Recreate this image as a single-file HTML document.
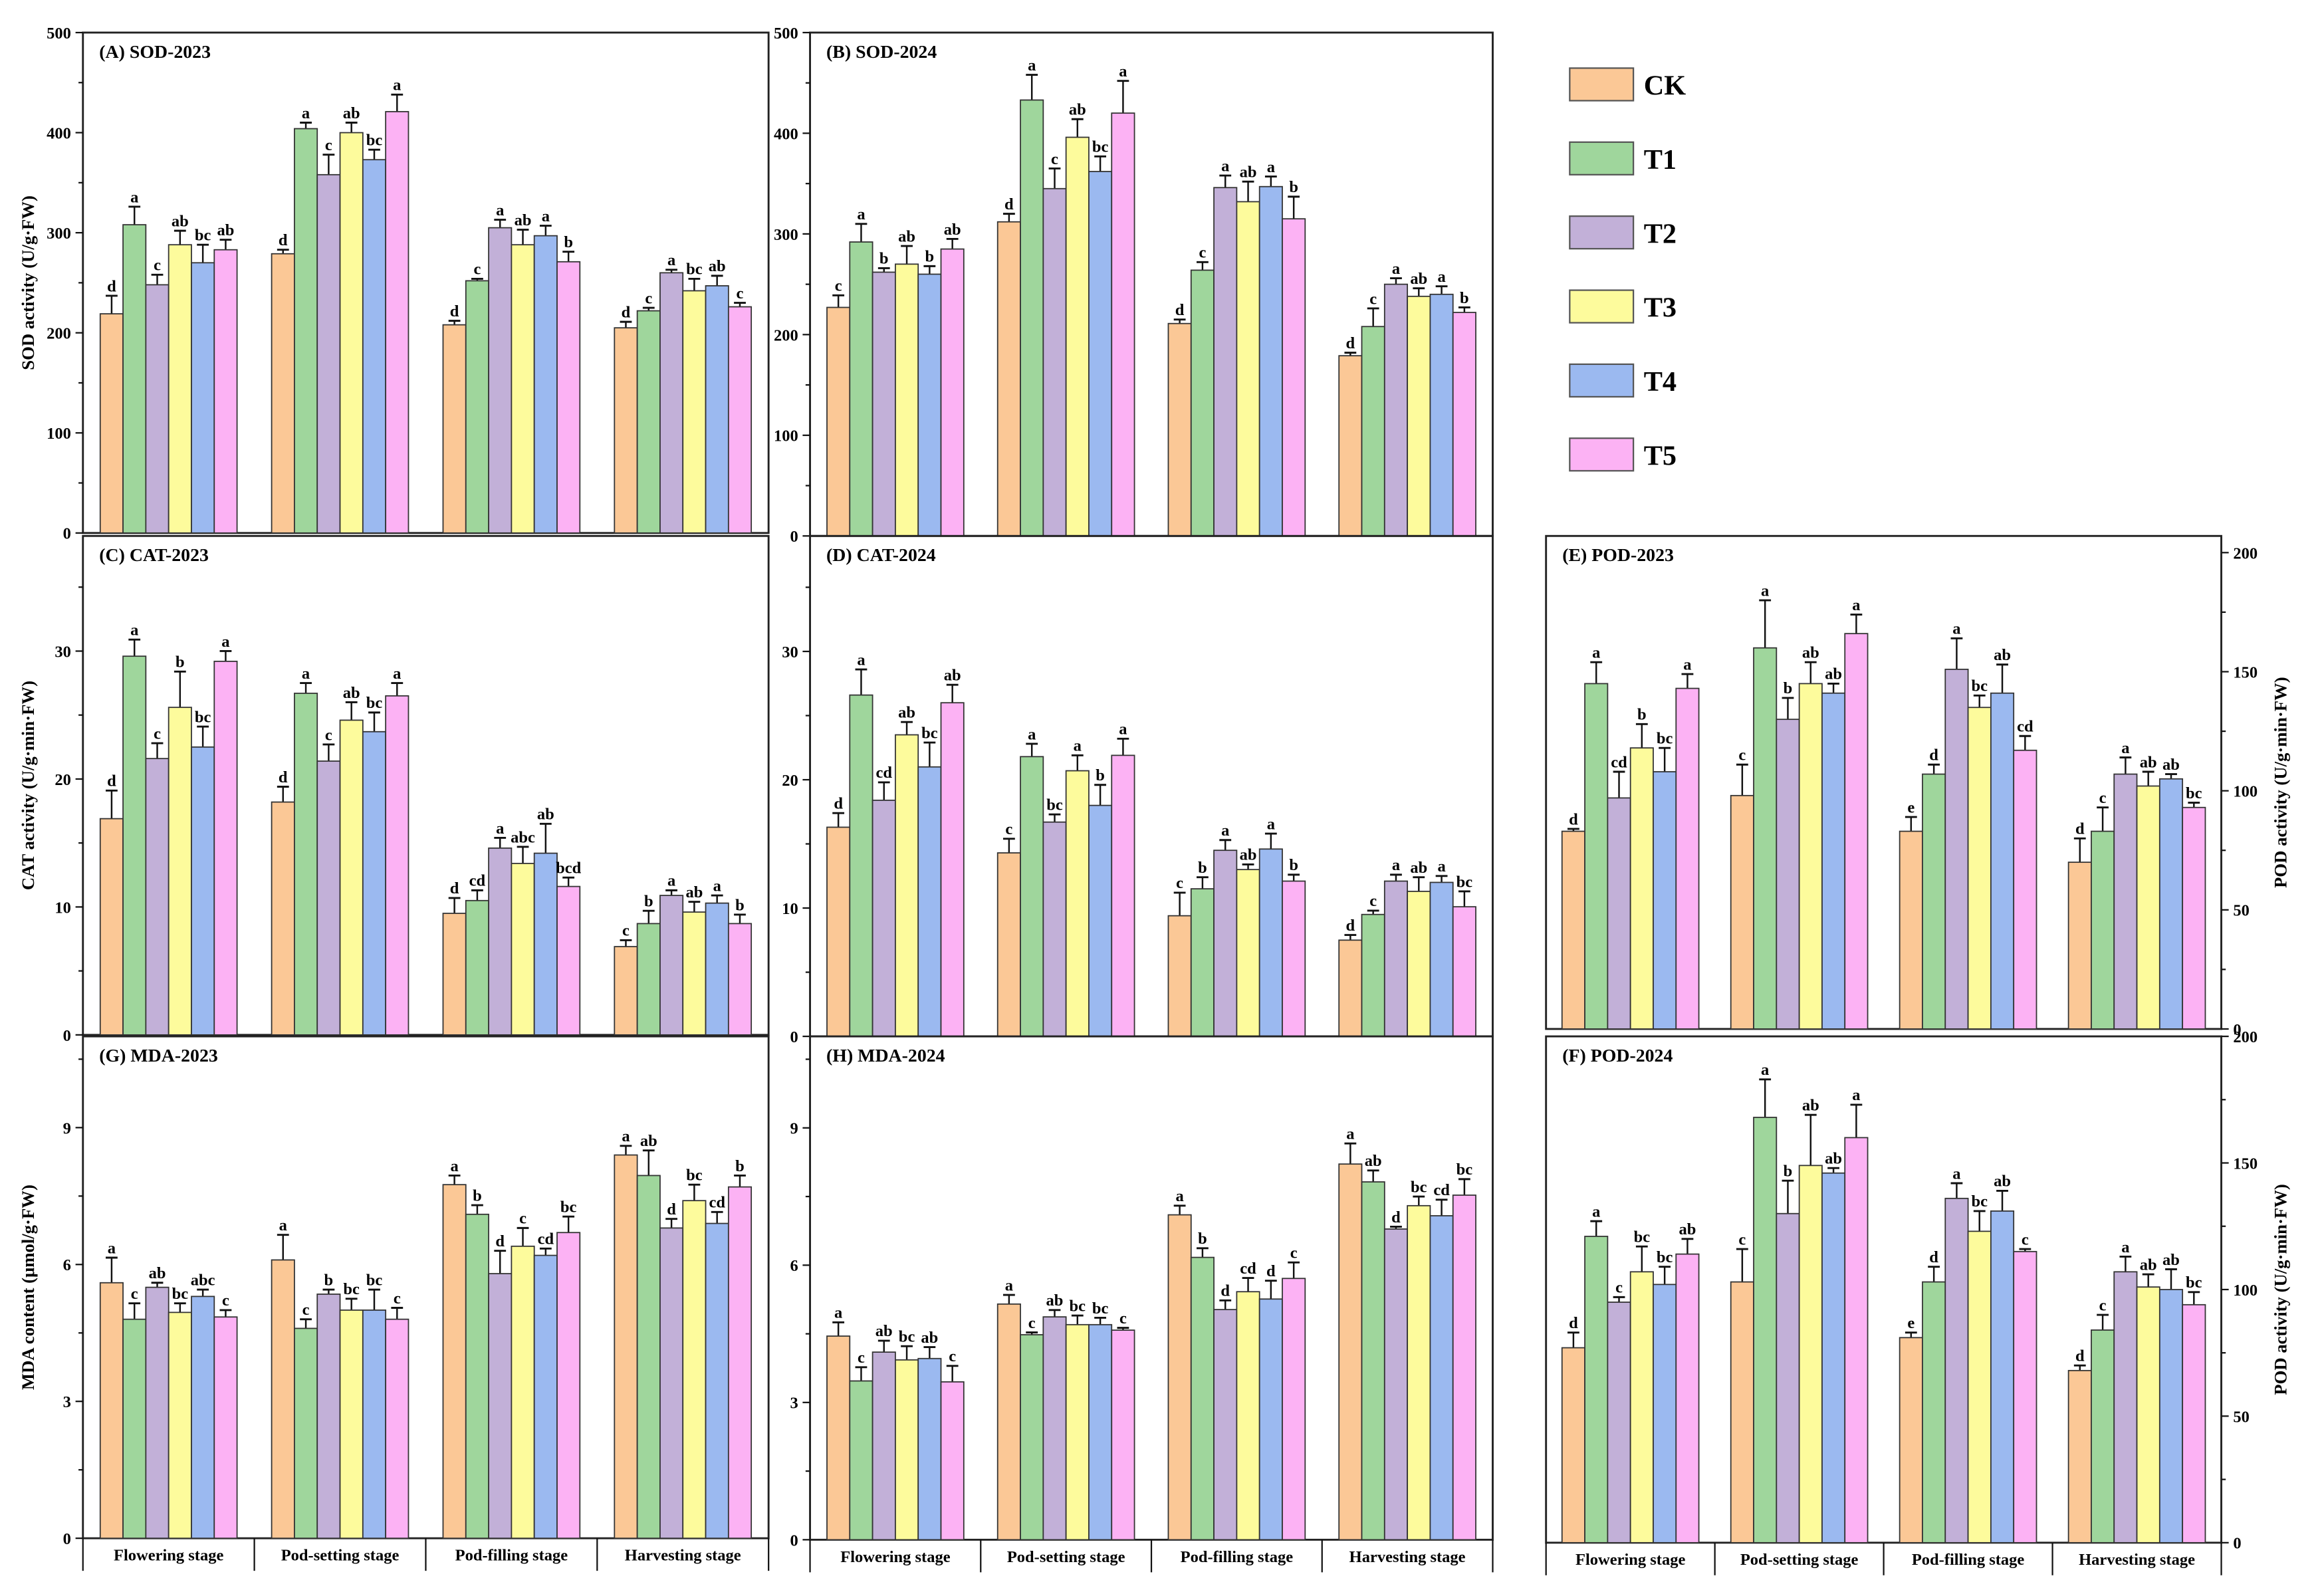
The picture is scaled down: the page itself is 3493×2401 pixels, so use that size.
<!DOCTYPE html>
<html><head><meta charset="utf-8"><style>
html,body{margin:0;padding:0;background:#fff;}
svg{display:block;}
text{font-family:"Liberation Serif",serif;fill:#000;}
</style></head><body>
<svg id="fig" xmlns="http://www.w3.org/2000/svg" width="3493" height="2401" viewBox="0 0 1568 1078" preserveAspectRatio="none">
<rect x="0" y="0" width="1568" height="1078" fill="#fff"/>
<g id="legend"></g>
<g id="panels"></g>
</svg>
<script>
const categories = ["Flowering stage","Pod-setting stage","Pod-filling stage","Harvesting stage"];
const seriesNames = ["CK","T1","T2","T3","T4","T5"];
const seriesColors = ["#fbc896","#9fd69c","#c2b0d8","#fdfb9c","#9bb9f0","#fcb2f4"];

const sod2023 = [[219,308,248,288,270,283],[279,404,358,400,373,421],[208,252,305,288,297,271],[205,222,260,242,247,226]];
const sod2023Err = [[18,18,10,14,18,10],[4,6,20,10,10,17],[4,2,8,15,10,10],[6,3,3,12,10,4]];
const sod2023Let = [["d","a","c","ab","bc","ab"],["d","a","c","ab","bc","a"],["d","c","a","ab","a","b"],["d","c","a","bc","ab","c"]];

const sod2024 = [[227,292,262,270,260,285],[312,433,345,396,362,420],[211,264,346,332,347,315],[179,208,250,238,240,222]];
const sod2024Err = [[12,18,4,18,8,10],[8,25,20,18,15,32],[4,8,12,20,10,22],[3,18,6,8,8,5]];
const sod2024Let = [["c","a","b","ab","b","ab"],["d","a","c","ab","bc","a"],["d","c","a","ab","a","b"],["d","c","a","ab","a","b"]];

const cat2023 = [[16.9,29.6,21.6,25.6,22.5,29.2],[18.2,26.7,21.4,24.6,23.7,26.5],[9.5,10.5,14.6,13.4,14.2,11.6],[6.9,8.7,10.9,9.6,10.3,8.7]];
const cat2023Err = [[2.2,1.3,1.2,2.8,1.6,0.8],[1.2,0.8,1.3,1.4,1.5,1.0],[1.2,0.8,0.8,1.3,2.3,0.7],[0.5,1.0,0.4,0.8,0.6,0.7]];
const cat2023Let = [["d","a","c","b","bc","a"],["d","a","c","ab","bc","a"],["d","cd","a","abc","ab","bcd"],["c","b","a","ab","a","b"]];

const cat2024 = [[16.3,26.6,18.4,23.5,21.0,26.0],[14.3,21.8,16.7,20.7,18.0,21.9],[9.4,11.5,14.5,13.0,14.6,12.1],[7.5,9.5,12.1,11.3,12.0,10.1]];
const cat2024Err = [[1.1,2.0,1.4,1.0,1.9,1.4],[1.1,1.0,0.6,1.2,1.6,1.3],[1.8,0.9,0.8,0.4,1.2,0.5],[0.4,0.3,0.5,1.1,0.5,1.2]];
const cat2024Let = [["d","a","cd","ab","bc","ab"],["c","a","bc","a","b","a"],["c","b","a","ab","a","b"],["d","c","a","ab","a","bc"]];

const pod2023 = [[83,145,97,118,108,143],[98,160,130,145,141,166],[83,107,151,135,141,117],[70,83,107,102,105,93]];
const pod2023Err = [[1,9,11,10,10,6],[13,20,9,9,4,8],[6,4,13,5,12,6],[10,10,7,6,2,2]];
const pod2023Let = [["d","a","cd","b","bc","a"],["c","a","b","ab","ab","a"],["e","d","a","bc","ab","cd"],["d","c","a","ab","ab","bc"]];

const pod2024 = [[77,121,95,107,102,114],[103,168,130,149,146,160],[81,103,136,123,131,115],[68,84,107,101,100,94]];
const pod2024Err = [[6,6,2,10,7,6],[13,15,13,20,2,13],[2,6,6,8,8,1],[2,6,6,5,8,5]];
const pod2024Let = [["d","a","c","bc","bc","ab"],["c","a","b","ab","ab","a"],["e","d","a","bc","ab","c"],["d","c","a","ab","ab","bc"]];

const mda2023 = [[5.6,4.8,5.5,4.95,5.3,4.85],[6.1,4.6,5.35,5.0,5.0,4.8],[7.75,7.1,5.8,6.4,6.2,6.7],[8.4,7.95,6.8,7.4,6.9,7.7]];
const mda2023Err = [[0.55,0.35,0.1,0.2,0.15,0.15],[0.55,0.2,0.1,0.25,0.45,0.25],[0.2,0.2,0.5,0.4,0.15,0.35],[0.2,0.55,0.2,0.35,0.25,0.25]];
const mda2023Let = [["a","c","ab","bc","abc","c"],["a","c","b","bc","bc","c"],["a","b","d","c","cd","bc"],["a","ab","d","bc","cd","b"]];

const mda2024 = [[4.45,3.47,4.1,3.93,3.96,3.45],[5.15,4.48,4.87,4.7,4.7,4.58],[7.1,6.17,5.03,5.42,5.26,5.71],[8.21,7.82,6.79,7.3,7.08,7.53]];
const mda2024Err = [[0.3,0.3,0.25,0.3,0.25,0.35],[0.2,0.05,0.15,0.2,0.15,0.05],[0.2,0.2,0.2,0.3,0.4,0.35],[0.45,0.25,0.05,0.2,0.35,0.35]];
const mda2024Let = [["a","c","ab","bc","ab","c"],["a","c","ab","bc","bc","c"],["a","b","d","cd","d","c"],["a","ab","d","bc","cd","bc"]];

const sodTicks = [0,100,200,300,400,500];
const catTicks = [0,10,20,30];
const podTicks = [0,50,100,150,200];
const mdaTicks = [0,3,6,9];

const NS = "http://www.w3.org/2000/svg";
function mk(tag, attrs, parent){
  const e = document.createElementNS(NS, tag);
  for (const k in attrs) e.setAttribute(k, attrs[k]);
  if (parent) parent.appendChild(e);
  return e;
}

const panelsG = document.getElementById('panels');

function drawPanel(p){
  const g = mk('g', {}, panelsG);
  
  
  const y = v => p.y0 - (v / p.max) * (p.y0 - p.top);
  // frame
  const fr = mk('rect', {x:p.x0, y:p.top, width:p.x1-p.x0, height:p.y0-p.top, fill:'none', stroke:'#222', 'stroke-width':1.3}, g);
  
  
  const gw = (p.x1 - p.x0) / categories.length;
  const bw = 15.4;
  categories.forEach((c, ci) => {
    const gx = p.x0 + gw*ci + gw/2 - bw*3;
    p.data[ci].forEach((v, si) => {
      const bx = gx + bw*si;
      const by = y(v);
      const ey = y(v + p.err[ci][si]);
      const cx = bx + bw/2;
      const el = mk('line', {x1:cx, y1:by, x2:cx, y2:ey, stroke:'#111', 'stroke-width':1.1}, g);
      
      
      const cap = mk('line', {x1:cx-4, y1:ey, x2:cx+4, y2:ey, stroke:'#111', 'stroke-width':1.3}, g);
      
      
      const r = mk('rect', {x:bx, y:by, width:bw, height:p.y0-by, fill:seriesColors[si], stroke:'#333', 'stroke-width':0.8}, g);
      
      
      const t = mk('text', {x:cx, y:ey-3, 'text-anchor':'middle', 'font-size':11, 'font-weight':'bold'}, g);
      t.textContent = p.letters[ci][si];
      
      
    });
    if (p.xlabels){
      const t = mk('text', {x:p.x0 + gw*ci + gw/2, y:p.y0+15, 'text-anchor':'middle', 'font-size':11, 'font-weight':'bold'}, g);
      t.textContent = c;
      
      
      const d = mk('line', {x1:p.x0 + gw*ci, y1:p.y0, x2:p.x0 + gw*ci, y2:p.y0+22, stroke:'#111', 'stroke-width':1}, g);
      
      
      if (ci === categories.length-1){
        const d2 = mk('line', {x1:p.x1, y1:p.y0, x2:p.x1, y2:p.y0+22, stroke:'#111', 'stroke-width':1}, g);
        
        
      }
    }
  });
  // axis ticks
  const ax = p.right ? p.x1 : p.x0;
  const dir = p.right ? 1 : -1;
  const step = p.ticks[1] - p.ticks[0];
  p.ticks.forEach(tv => {
    const ty = y(tv);
    const tl = mk('line', {x1:ax, y1:ty, x2:ax+dir*5, y2:ty, stroke:'#111', 'stroke-width':1}, g);
    
    
    const mv = tv + step/2;
    if (mv <= p.max){
      const ml = mk('line', {x1:ax, y1:y(mv), x2:ax+dir*3, y2:y(mv), stroke:'#111', 'stroke-width':1}, g);
      
      
    }
    const t = mk('text', {x:ax+dir*8, y:ty+4, 'text-anchor':p.right?'start':'end', 'font-size':11, 'font-weight':'bold'}, g);
    t.textContent = tv;
    
    
  });
  if (p.ytitle){
    const tx = p.right ? p.x1 + 44 : p.x0 - 33;
    const cy = (p.top + p.y0)/2;
    const t = mk('text', {x:tx, y:cy, 'text-anchor':'middle', 'font-size':12, 'font-weight':'bold', transform:'rotate(-90 '+tx+' '+cy+')'}, g);
    t.textContent = p.ytitle;
    
    
  }
  const tt = mk('text', {x:p.x0+11, y:p.top+17, 'font-size':12.5, 'font-weight':'bold'}, g);
  tt.textContent = p.title;
  
  
}

drawPanel({name:'panel-a-sod-2023', title:'(A) SOD-2023', x0:56, x1:519, top:22, y0:360, max:500, ticks:sodTicks, data:sod2023, err:sod2023Err, letters:sod2023Let, ytitle:'SOD activity (U/g·FW)'});
drawPanel({name:'panel-b-sod-2024', title:'(B) SOD-2024', x0:547, x1:1008, top:22, y0:362, max:500, ticks:sodTicks, data:sod2024, err:sod2024Err, letters:sod2024Let});
drawPanel({name:'panel-c-cat-2023', title:'(C) CAT-2023', x0:56, x1:519, top:362, y0:699, max:39, ticks:catTicks, data:cat2023, err:cat2023Err, letters:cat2023Let, ytitle:'CAT activity (U/g·min·FW)'});
drawPanel({name:'panel-d-cat-2024', title:'(D) CAT-2024', x0:547, x1:1008, top:362, y0:700, max:39, ticks:catTicks, data:cat2024, err:cat2024Err, letters:cat2024Let});
drawPanel({name:'panel-e-pod-2023', title:'(E) POD-2023', x0:1044, x1:1500, top:362, y0:695, max:207, ticks:podTicks, data:pod2023, err:pod2023Err, letters:pod2023Let, right:true, ytitle:'POD activity (U/g·min·FW)'});
drawPanel({name:'panel-g-mda-2023', title:'(G) MDA-2023', x0:56, x1:519, top:700, y0:1039, max:11, ticks:mdaTicks, data:mda2023, err:mda2023Err, letters:mda2023Let, ytitle:'MDA content (μmol/g·FW)', xlabels:true});
drawPanel({name:'panel-h-mda-2024', title:'(H) MDA-2024', x0:547, x1:1008, top:700, y0:1040, max:11, ticks:mdaTicks, data:mda2024, err:mda2024Err, letters:mda2024Let, xlabels:true});
drawPanel({name:'panel-f-pod-2024', title:'(F) POD-2024', x0:1044, x1:1500, top:700, y0:1042, max:200, ticks:podTicks, data:pod2024, err:pod2024Err, letters:pod2024Let, right:true, ytitle:'POD activity (U/g·min·FW)', xlabels:true});

const lg = document.getElementById('legend');
seriesNames.forEach((n, i) => {
  const r = mk('rect', {x:1060, y:46 + i*50, width:43, height:22, fill:seriesColors[i], stroke:'#555', 'stroke-width':1}, lg);
  
  
  const t = mk('text', {x:1110, y:64 + i*50, 'font-size':19, 'font-weight':'bold'}, lg);
  t.textContent = n;
  
  
});
</script>
</body></html>
